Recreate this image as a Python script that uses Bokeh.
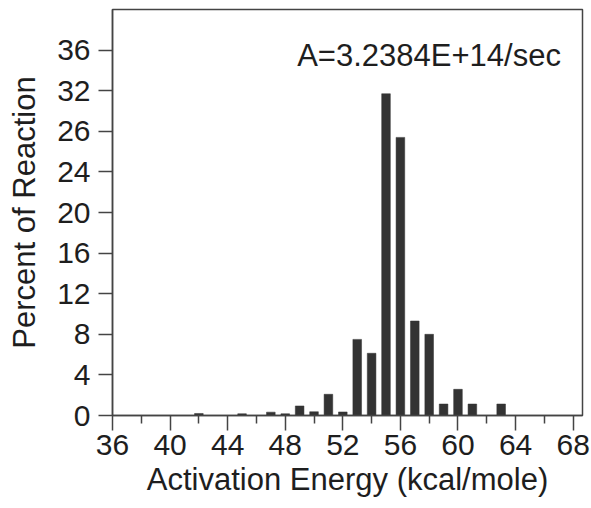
from bokeh.plotting import figure
from bokeh.models import FixedTicker, Range1d, Label
from bokeh.embed import file_html
from bokeh.resources import INLINE

# Data
energy = [42, 45, 47, 48, 49, 50, 51, 52, 53, 54, 55, 56, 57, 58, 59, 60, 61, 63]
percent = [0.2, 0.17, 0.33, 0.17, 0.94, 0.37, 2.09, 0.35, 7.5, 6.13, 31.7, 27.4, 9.31, 8.0, 1.13, 2.58, 1.13, 1.13]

x_major = [36, 40, 44, 48, 52, 56, 60, 64, 68]
x_minor = [38, 42, 46, 50, 54, 58, 62, 66]
y_ticks = [0, 4, 8, 12, 16, 20, 24, 28, 32, 36]
y_tick_labels = ["0", "4", "8", "12", "16", "20", "24", "26", "32", "36"]

annotation = "A=3.2384E+14/sec"
x_title = "Activation Energy (kcal/mole)"
y_title = "Percent of Reaction"

FONT = "Liberation Sans"
TXT = "#1e1e1e"
LINE = "#444444"

p = figure(width=591, height=508, output_backend="svg", toolbar_location=None,
           x_range=Range1d(36, 68.65), y_range=Range1d(0, 40),
           min_border_left=112, min_border_right=9, min_border_top=9, min_border_bottom=93)

p.vbar(x=energy, top=percent, width=0.6, bottom=0, fill_color="#333333", line_color="#333333", line_width=0.5)

p.grid.visible = False
p.background_fill_color = "white"
p.border_fill_color = "white"
p.outline_line_color = LINE
p.outline_line_width = 1.5

xa = p.xaxis[0]
xa.ticker = FixedTicker(ticks=x_major, minor_ticks=x_minor)
xa.major_tick_out = 15
xa.major_tick_in = 0
xa.minor_tick_out = 8
xa.minor_tick_in = 0
xa.axis_line_color = LINE
xa.axis_line_width = 1.5
xa.major_tick_line_color = LINE
xa.major_tick_line_width = 1.5
xa.minor_tick_line_color = LINE
xa.minor_tick_line_width = 1.5
xa.major_label_text_font = FONT
xa.major_label_text_font_size = "30px"
xa.major_label_text_color = TXT
xa.major_label_standoff = 4
xa.axis_label = x_title
xa.axis_label_text_font = FONT
xa.axis_label_text_font_size = "31px"
xa.axis_label_text_font_style = "normal"
xa.axis_label_text_color = TXT
xa.axis_label_standoff = 4

ya = p.yaxis[0]
ya.ticker = FixedTicker(ticks=y_ticks, minor_ticks=[])
ya.major_label_overrides = {t: l for t, l in zip(y_ticks, y_tick_labels)}
ya.major_tick_out = 14
ya.major_tick_in = 0
ya.minor_tick_out = 0
ya.minor_tick_in = 0
ya.axis_line_color = LINE
ya.axis_line_width = 1.5
ya.major_tick_line_color = LINE
ya.major_tick_line_width = 1.5
ya.major_label_text_font = FONT
ya.major_label_text_font_size = "30px"
ya.major_label_text_color = TXT
ya.major_label_standoff = 8
ya.axis_label = y_title
ya.axis_label_text_font = FONT
ya.axis_label_text_font_size = "31px"
ya.axis_label_text_font_style = "normal"
ya.axis_label_text_color = TXT
ya.axis_label_standoff = 12

p.add_layout(Label(x=67.15, y=35.5, text=annotation, text_align="right", text_baseline="alphabetic",
                   text_font=FONT, text_font_size="31px", text_color=TXT))

open("out.html", "w").write(file_html(p, INLINE))
